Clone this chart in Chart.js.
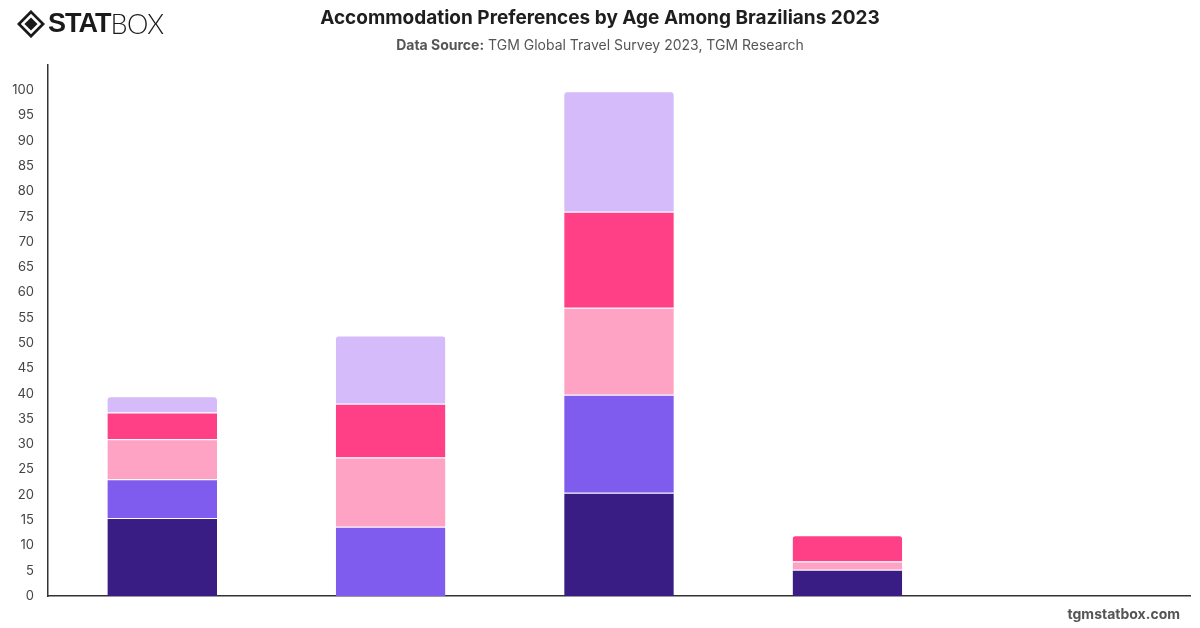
<!DOCTYPE html>
<html>
<head>
<meta charset="utf-8">
<script src="https://cdn.jsdelivr.net/npm/chart.js@4/dist/chart.umd.min.js"></script>
<style>
  html, body { margin: 0; padding: 0; background: #fff; }
  #wrap { position: relative; width: 1200px; height: 628px; font-family: Inter, "Liberation Sans", sans-serif; }
  #myChart { position: absolute; left: 0; top: 0; }
  .logo { position: absolute; left: 17px; top: 7px; display: flex; align-items: center; color: #1a1a1a; }
  .logo .stat { font-family: "Liberation Sans", sans-serif; font-weight: 900; font-size: 27px; letter-spacing: -1px; margin-left: 3px; }
  .logo .box { font-family: Lato, "Liberation Sans", sans-serif; font-weight: 300; font-size: 27px; letter-spacing: -0.5px; }
  .titulo { position: absolute; left: 0; width: 1200px; top: 6px; text-align: center; font-weight: 700; font-size: 19px; color: #1e1e1e; }
  .fuente { position: absolute; left: 0; width: 1200px; top: 36px; text-align: center; font-size: 14px; color: #555; }
  .fuente b { color: #555; }
  .pie { position: absolute; right: 20px; top: 605px; font-weight: 700; font-size: 14px; color: #555; }
</style>
</head>
<body>
<div id="wrap">
  <canvas id="myChart" width="1200" height="628"></canvas>
  <div class="logo">
    <svg width="28" height="28" viewBox="0 0 30 30">
      <path d="M15 2 L28 15 L15 28 L2 15 Z" fill="none" stroke="#1a1a1a" stroke-width="3"/>
      <path d="M15 8 L22 15 L15 22 L8 15 Z" fill="#1a1a1a"/>
    </svg>
    <span class="stat">STAT</span><span class="box">BOX</span>
  </div>
  <div class="titulo">Accommodation Preferences by Age Among Brazilians 2023</div>
  <div class="fuente"><b>Data Source:</b> TGM Global Travel Survey 2023, TGM Research</div>
  <div class="pie">tgmstatbox.com</div>
</div>
<script>
// valores (sin etiquetas de eje visibles)
const categorias = ['Hotel', 'Vacation rental', 'Hostel', 'Friends / family', 'Other'];
const serie1 = [15.4, 0, 20.4, 5.2, 0];
const serie2 = [7.7, 13.7, 19.4, 0, 0];
const serie3 = [7.9, 13.7, 17.2, 1.6, 0];
const serie4 = [5.3, 10.6, 19.0, 5.2, 0];
const serie5 = [3.2, 13.5, 23.8, 0, 0];
const nombres = ['18-24', '25-34', '35-44', '45-54', '55+'];
const colores = ['#3a1d84', '#7f5ced', '#ffa3c5', '#ff4086', '#d5bbfa'];

const series = [serie1, serie2, serie3, serie4, serie5];

function charts(labels, datos) {
  const ctx = document.getElementById('myChart').getContext('2d');
  const myChart = new Chart(ctx, {
    type: 'bar',
    data: {
      labels: labels,
      datasets: datos.map((d, i) => ({
        label: nombres[i],
        data: d,
        backgroundColor: colores[i],
        borderColor: '#ffffff',
        borderWidth: { top: 1, left: 0, right: 0, bottom: 0 },
        borderRadius: 4,
        borderSkipped: 'bottom',
        barPercentage: 0.6,
        categoryPercentage: 0.8
      }))
    },
    options: {
      responsive: false,
      animation: false,
      layout: {
        padding: { left: 8, top: 65, right: 10, bottom: 31 }
      },
      plugins: {
        legend: { display: false },
        title: { display: false },
        tooltip: { enabled: false }
      },
      scales: {
        x: {
          stacked: true,
          grid: { display: false, drawTicks: false },
          border: { display: true, color: '#333', width: 1.5 },
          ticks: { display: false },
          afterFit: (axis) => { axis.height = 1; }
        },
        y: {
          stacked: true,
          min: 0,
          max: 105,
          grid: { display: false, drawTicks: false },
          border: { display: true, color: '#333', width: 1.5 },
          ticks: {
            stepSize: 5,
            padding: 14,
            color: '#444',
            font: { family: 'Inter, "Liberation Sans", sans-serif', size: 13 },
            callback: (v) => (v <= 100 ? v : '')
          },
          afterFit: (axis) => { axis.width = 40; }
        }
      }
    }
  });
  return myChart;
}

charts(categorias, series);
</script>
</body>
</html>
